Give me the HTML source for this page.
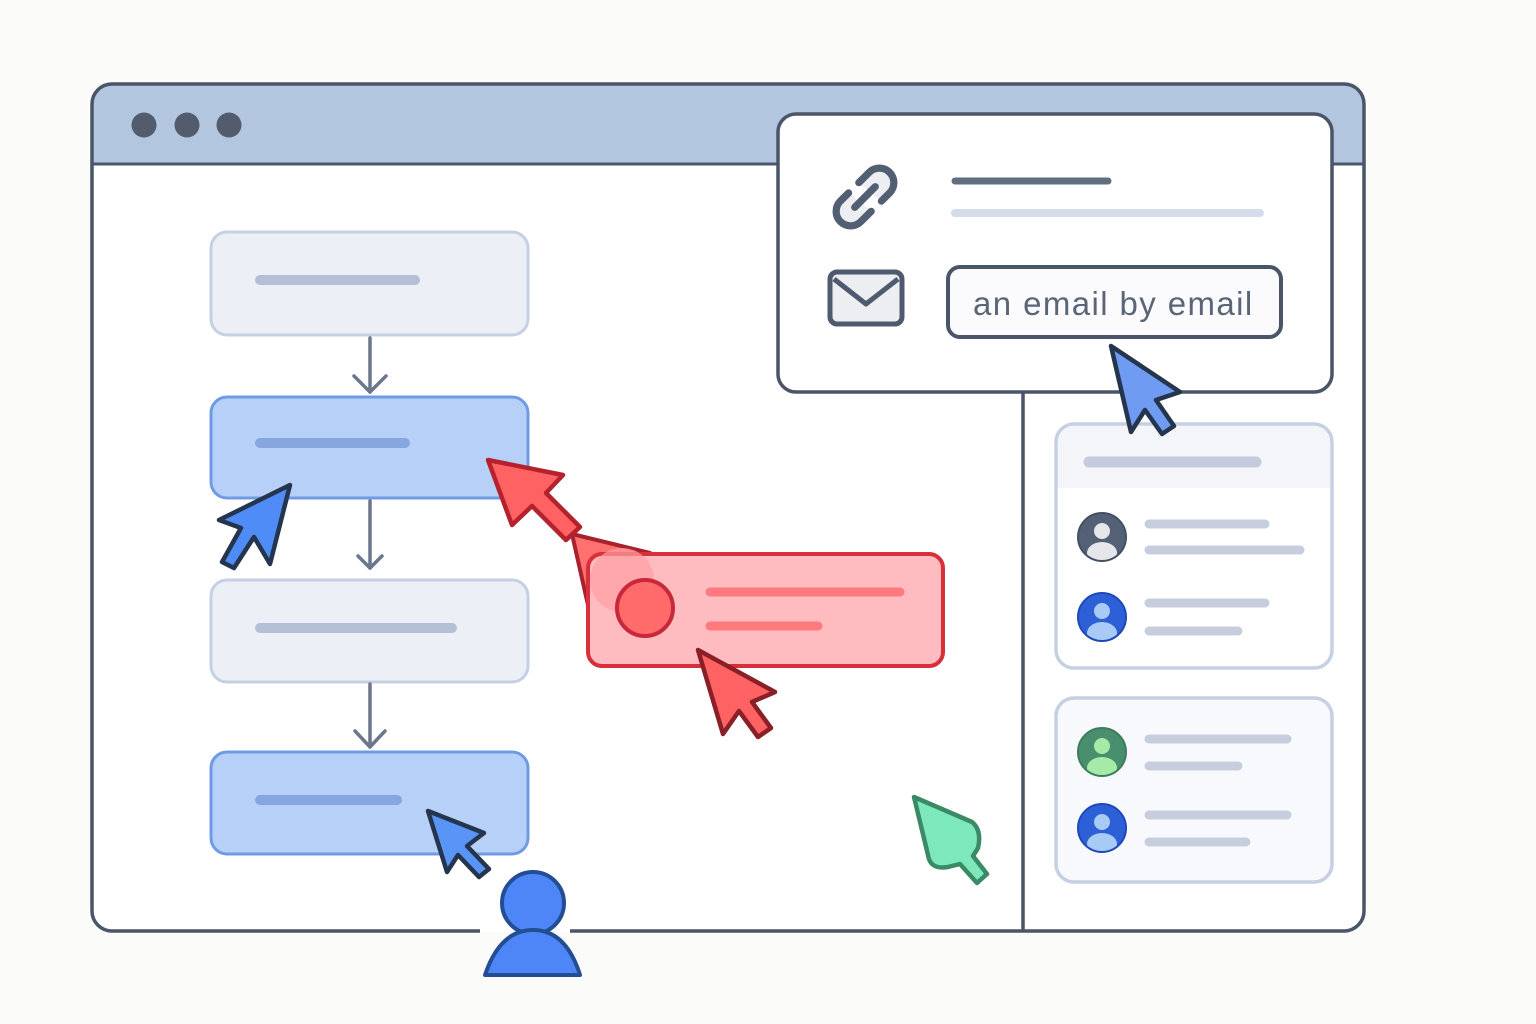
<!DOCTYPE html>
<html><head><meta charset="utf-8"><style>
html,body{margin:0;padding:0;background:#fbfbfa;}
svg{display:block;}
</style></head><body>
<svg width="1536" height="1024" viewBox="0 0 1536 1024" xmlns="http://www.w3.org/2000/svg">
<rect x="0" y="0" width="1536" height="1024" fill="#fbfbfa"/>
<!-- window -->
<rect x="92" y="84" width="1272" height="847" rx="20" fill="#ffffff"/>
<path d="M92 164 V104 a20 20 0 0 1 20 -20 H1344 a20 20 0 0 1 20 20 V164 Z" fill="#b3c6e0"/>
<line x1="92" y1="164" x2="1364" y2="164" stroke="#4a5568" stroke-width="3"/>
<path d="M480 931 H112 a20 20 0 0 1 -20 -20 V104 a20 20 0 0 1 20 -20 H1344 a20 20 0 0 1 20 20 V911 a20 20 0 0 1 -20 20 H570" fill="none" stroke="#4a5568" stroke-width="3.5"/>
<circle cx="144" cy="125" r="12.5" fill="#525c6c"/>
<circle cx="187" cy="125" r="12.5" fill="#525c6c"/>
<circle cx="229" cy="125" r="12.5" fill="#525c6c"/>
<line x1="1023" y1="390" x2="1023" y2="931" stroke="#4a5568" stroke-width="3.5"/>

<!-- popup -->
<rect x="778" y="114" width="554" height="278" rx="18" fill="#ffffff" stroke="#4a5568" stroke-width="3.5"/>
<g fill="none" stroke="#525e72" stroke-width="5" stroke-linecap="round">
<g transform="translate(865,197) rotate(-45) scale(1.45)">
<path d="M4 -10 H14 a10 10 0 0 1 0 20 H6" fill="#eceef2"/>
<path d="M-4 10 H-14 a10 10 0 0 1 0 -20 H-6" fill="#eceef2"/>
<line x1="-10" y1="0" x2="10" y2="0"/>
</g>
</g>
<line x1="955" y1="181" x2="1108" y2="181" stroke="#626d80" stroke-width="7" stroke-linecap="round"/>
<line x1="955" y1="213" x2="1260" y2="213" stroke="#d6dcea" stroke-width="8" stroke-linecap="round"/>
<rect x="830" y="272" width="72" height="52" rx="7" fill="#eceef2" stroke="#4f5a6e" stroke-width="5"/>
<path d="M834 279 L866 304 L898 279" fill="none" stroke="#4f5a6e" stroke-width="5" stroke-linejoin="round"/>
<rect x="948" y="267" width="333" height="70" rx="12" fill="#fbfbfd" stroke="#4a5568" stroke-width="4"/>
<text x="973" y="315" font-family="Liberation Sans, sans-serif" font-size="33" letter-spacing="1.4" fill="#5a6578">an email by email</text>

<!-- flow -->
<g stroke-width="3">
<rect x="211" y="232" width="317" height="103" rx="16" fill="#eceff5" stroke="#c5d0e3"/>
<rect x="211" y="397" width="317" height="101" rx="16" fill="#b7d0f8" stroke="#6f9be6"/>
<rect x="211" y="580" width="317" height="102" rx="16" fill="#eceff5" stroke="#c5d0e3"/>
<rect x="211" y="752" width="317" height="102" rx="16" fill="#b7d0f8" stroke="#6f9be6"/>
</g>
<g stroke-linecap="round" stroke-width="10">
<line x1="260" y1="280" x2="415" y2="280" stroke="#b3bfd4"/>
<line x1="260" y1="443" x2="405" y2="443" stroke="#86a6e0"/>
<line x1="260" y1="628" x2="452" y2="628" stroke="#b3bfd4"/>
<line x1="260" y1="800" x2="397" y2="800" stroke="#86a6e0"/>
</g>
<g fill="none" stroke="#6b778c" stroke-width="3.5" stroke-linecap="round" stroke-linejoin="round">
<line x1="370" y1="338" x2="370" y2="392"/><path d="M354 376 L370 392 L386 376"/>
<line x1="370" y1="501" x2="370" y2="568"/><path d="M358 556 L370 568 L382 556"/>
<line x1="370" y1="684" x2="370" y2="747"/><path d="M355 731 L370 747 L385 731"/>
</g>

<!-- red card -->
<path d="M572 534 L650 553 L588 605 Z" fill="#ff7070" stroke="#a8222e" stroke-width="4" stroke-linejoin="round"/>
<rect x="588" y="554" width="355" height="112" rx="14" fill="#ffbcc0" stroke="#d8303a" stroke-width="4"/>
<circle cx="622" cy="580" r="32" fill="#ff9ea2" opacity="0.7"/>
<circle cx="645" cy="608" r="28" fill="#ff6b6b" stroke="#c8283a" stroke-width="4"/>
<line x1="710" y1="592" x2="900" y2="592" stroke="#ff7a7c" stroke-width="9" stroke-linecap="round"/>
<line x1="710" y1="626" x2="818" y2="626" stroke="#ff7a7c" stroke-width="9" stroke-linecap="round"/>

<!-- right cards -->
<rect x="1056" y="424" width="276" height="244" rx="18" fill="#ffffff" stroke="#c5d0e3" stroke-width="3.5"/>
<path d="M1058 488 V442 a16 16 0 0 1 16 -16 H1314 a16 16 0 0 1 16 16 V488 Z" fill="#f3f5f9"/>
<line x1="1089" y1="462" x2="1256" y2="462" stroke="#c3cbdc" stroke-width="11" stroke-linecap="round"/>
<rect x="1056" y="698" width="276" height="184" rx="18" fill="#f8f9fc" stroke="#c5d0e3" stroke-width="3.5"/>

<g stroke-linecap="round" stroke-width="9" stroke="#c6cede">
<line x1="1149" y1="524" x2="1265" y2="524"/><line x1="1149" y1="550" x2="1300" y2="550"/>
<line x1="1149" y1="603" x2="1265" y2="603"/><line x1="1149" y1="631" x2="1238" y2="631"/>
<line x1="1149" y1="739" x2="1287" y2="739"/><line x1="1149" y1="766" x2="1238" y2="766"/>
<line x1="1149" y1="815" x2="1287" y2="815"/><line x1="1149" y1="842" x2="1246" y2="842"/>
</g>

<defs>
<clipPath id="c1"><circle cx="0" cy="0" r="23"/></clipPath>
</defs>
<g transform="translate(1102,537)"><circle r="24" fill="#546075" stroke="#465064" stroke-width="2"/><g clip-path="url(#c1)"><circle cy="-6" r="8" fill="#e4e6ea"/><ellipse cy="16" rx="15" ry="11" fill="#e4e6ea"/></g></g>
<g transform="translate(1102,617)"><circle r="24" fill="#2d5fd6" stroke="#1f48b8" stroke-width="2"/><g clip-path="url(#c1)"><circle cy="-6" r="8" fill="#a8cbf6"/><ellipse cy="16" rx="15" ry="11" fill="#a8cbf6"/></g></g>
<g transform="translate(1102,752)"><circle r="24" fill="#4a8f6d" stroke="#3d7d5c" stroke-width="2"/><g clip-path="url(#c1)"><circle cy="-6" r="8" fill="#a6eaa8"/><ellipse cy="16" rx="15" ry="11" fill="#a6eaa8"/></g></g>
<g transform="translate(1102,828)"><circle r="24" fill="#2d5fd6" stroke="#1f48b8" stroke-width="2"/><g clip-path="url(#c1)"><circle cy="-6" r="8" fill="#a8cbf6"/><ellipse cy="16" rx="15" ry="11" fill="#a8cbf6"/></g></g>

<!-- cursors -->
<g stroke-width="4.5" stroke-linejoin="round">
<path d="M488 460 L563 475 L546 493 L580 527 L566 540 L532 506 L512 525 Z" fill="#ff6262" stroke="#b5222e"/>
<path d="M698 650 L775 692 L752 702 L771 728 L758 737 L739 711 L723 734 Z" fill="#ff6262" stroke="#8a1f28"/>
<path d="M290 485 L219 520 L241 528 L222 562 L234 568 L254 537 L270 564 Z" fill="#4f8cf7" stroke="#25354d"/>
<path d="M428 811 L484 833 L467 846 L489 869 L479 877 L458 855 L447 872 Z" fill="#5895f7" stroke="#25354d"/>
<path d="M1111 346 L1180 392 L1156 400 L1174 426 L1162 434 L1145 410 L1131 432 Z" fill="#6f9cf2" stroke="#25354d"/>
<path d="M914 797 L972 822 Q982 830 978 848 L973 856 L987 874 L977 883 L960 864 L948 867 Q930 870 928 855 Z" fill="#7ee8bd" stroke="#3a8a66"/>
</g>

<!-- user -->
<circle cx="533" cy="903" r="31" fill="#4f86f7" stroke="#244e94" stroke-width="4"/>
<path d="M485 975 Q500 930 533 930 Q566 930 580 975 Z" fill="#4f86f7" stroke="#244e94" stroke-width="4" stroke-linejoin="round"/>
</svg>
</body></html>
